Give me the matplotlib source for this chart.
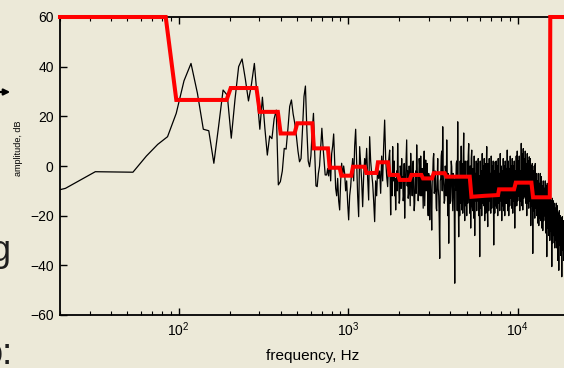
import numpy as np
import matplotlib
matplotlib.use('Agg')
import matplotlib.pyplot as plt
from matplotlib.patches import FancyArrowPatch

plt.rcParams['font.family'] = ['Liberation Sans', 'DejaVu Sans']
plt.rcParams['mathtext.fontset'] = 'custom'
plt.rcParams['mathtext.rm'] = 'Liberation Sans'
plt.rcParams['mathtext.it'] = 'Liberation Sans:italic'
plt.rcParams['mathtext.bf'] = 'Liberation Sans:bold'

BG = '#ECE9D8'

# ---------------- data ----------------
# spectrum, low part: FFT bins (44.1 kHz, 4096 points)
bin_hz = 44100 / 4096
low_amp = [-14, -9.0, -2.3, -2.4, -2.5, 4.0, 8.7, 11.8, 21.2, 34.3,
           41.3, 29.3, 14.8, 14.2, 1.1, 16, 30.6, 28.5, 11.2, 27,
           40, 43.1, 35, 26.2, 33, 41.3, 28, 14.8, 27.7, 15,
           4.4, 12.1, 11, 19, 22.5, -7.6, -6.3, -2, 7.1, 6.8,
           15, 24, 26.6, 21, 17.2, 12, 6, 1.7, 3, 15,
           28, 32.2, 15, 2, -0.3, 4, 14, 21.2, 5, -8,
           -8.3, -3, 0, 8, 15.2, 8, 2, -3.6]

# spectrum, ~747 Hz .. ~1.73 kHz
mid1_f_range = (747, 1733)
mid1_amp = [-3.6, -1, -4, 2.4, -6, 5, 8, 12.9, 2, -9,
            -12, -5, -14, -17.7, -6, 1.1, -4, 0, -3, -10,
            -6, -15, -21.7, -12, -8.3, -2, 3, -6, 8, 14.8,
            2, -12, -20.4, 7.8, 1.1, -6, -16.4, -4, 3, -0.3,
            7.1, -5, -13.7, 11.8, 2, -3, -7, -14, -22.4, -6,
            -12, -0.3, -5, -2, -11, 4, -6, 8, 18.5, 3,
            -4, -8.3, 2]

# spectrum, ~1.76 kHz .. ~4.34 kHz
mid2_f_range = (1757, 4338)
mid2_amp = [6.4, -8, -19.7, -6, -3, -12, 7.8, -4, -6, 2, -12, -5, -17.7, -8, -2, -10, 9.1, -3, -5, -15,
            -13.7, 0, -1, -9, 3, -6, -4.3, -14, -12, 1, -21, -7, -3, 4, 10.5, -8, -2, -13, -11, 0,
            -8.3, -16, 5.1, -3, -6, -12, -1, 2, -10, -18, -15, -5, -2, -11, 8.5, -2, -4, -14, -9, 3,
            -0.3, -12, 4, -7, -12, -1, -9.7, -17, -3, 6, -16, -6, 2.4, -10, -6, 1, -14, -20, -3, -9,
            -21.7, -4, -8, -14, -25.8, -6, -4, 3, 5, -11, -10, -2, -8.3, -17, -18, -5, 3, -9, -12, -22,
            -37.2, -6, -5, 4, 6, -10, 15.8, -4, -8, -15, -13.7, 0, -2, -12, 10.5, -6, -20, -3, -31.1, -8,
            -4, -15, -14, 2, -0.3, -10, -18, -3, -6, -14, -47.2, -5, -9.7, 1]

# spectrum, ~4.37 kHz .. ~22 kHz (very dense)
high_f_range = (4366, 22140)
high_amp = [2, -18, 17.8, -10, -28.5, -4, -20, 2, -15, 8, -17.7, 1, -19, 3, 13.3, -12, -22, 2, -16, -5,
            -20, 2, -15, 4, 9, -12, -19, 0, -25, 3, 6.4, -16, -18, -1, -21, 4, -28, -3, -14, 2,
            -18, 1, -14, 3, -20, -4, -36.5, 2, -17, -2, -20, 5, -15, 0, -16, 3, -22, 1, -19, -2,
            7.8, -16, -24.4, 1, -18, 3, -14, -3, -19, 4, -17, 0, -12, 2, -31.8, -2, -19, 1.7, -16, 2,
            -17, 0, -20, 3, -15, -3, -18, 5, -14, 0, -22, -2, -16, 3, -18, 0, -20, 2, -15, -1,
            -15, 6.4, -18, 2, -20, -1, -16, 4, -13, 0, -17, 3, -19, 0, -14, 2, -25, -2, -16, 4,
            -16, 6, -14, 2, -12, 4, -18, -2, -14, 9.1, -16, 5, -17.7, 7, -13, 3, -12, 6, -15, 1,
            -20, 5, -15, 2, -17, 3.7, -14, 3, -24, 0, -16, 1, -35.2, -2, -18, 0, -21, 1, -17, -3,
            -20, -6, -23, -3, -24, -7, -21, -3, -22, -4.3, -25, -8, -26, -6, -22, -9, -20, -6, -27, -8,
            -36.5, -7, -25, -11, -28, -9, -30, -12, -26, -14, -40.5, -13, -31, -14, -28, -15, -33, -17, -30, -15,
            -33, -16, -38, -19, -42, -18, -32, -20, -36, -21, -44.6, -20.4, -34, -22, -38, -23, -35, -22, -40, -24,
            -38, -24, -42, -25, -40, -26, -43, -27, -42, -28, -44, -27, -45, -29, -43, -28, -46, -30, -44, -29]

# threshold (red) polyline
red_f = [20, 84, 97, 192, 203, 288, 301, 385, 400, 483, 501, 615, 628,
         760, 778, 891, 912, 1044, 1067, 1251, 1281, 1467, 1499, 1717,
         1757, 1967, 2013, 2306, 2360, 2703, 2763, 3122, 3194, 3710,
         3796, 5210, 5332, 6387, 7652, 7757, 9510, 9732, 12040, 12310,
         15450, 15550, 22050]
red_db = [60, 60, 26.6, 26.6, 31.4, 31.4, 21.8, 21.8, 13.1, 13.1, 17.2,
          17.2, 7.1, 7.1, -0.7, -0.7, -3.9, -3.9, -0.3, -0.3, -2.8, -2.8,
          1.5, 1.5, -3.6, -3.6, -5.6, -5.6, -3.6, -3.6, -5.0, -5.0, -2.9,
          -2.9, -4.3, -4.3, -12.4, -12.0, -11.7, -9.4, -9.4, -6.7, -6.7,
          -12.6, -12.6, 60, 60]

y_ticks = [-60, -40, -20, 0, 20, 40, 60]

# ---------------- figure ----------------
fig = plt.figure(figsize=(5.64, 3.68), dpi=100, facecolor=BG)
ax = fig.add_axes([60 / 564, 1 - 315 / 368, 516 / 564, 298 / 368])
ax.set_facecolor(BG)

f_low = bin_hz * np.arange(1, len(low_amp) + 1)
f_mid1 = np.geomspace(mid1_f_range[0], mid1_f_range[1], len(mid1_amp))
f_mid2 = np.geomspace(mid2_f_range[0], mid2_f_range[1], len(mid2_amp))
f_high = np.geomspace(high_f_range[0], high_f_range[1], len(high_amp))
freq = np.concatenate([f_low, f_mid1, f_mid2, f_high])
amp = np.concatenate([low_amp, mid1_amp, mid2_amp, high_amp])

ax.plot(freq, amp, color='black', lw=0.9, zorder=2)
ax.plot(red_f, red_db, color='#FF0000', lw=2.9, zorder=3,
        solid_joinstyle='miter', clip_on=False)

ax.set_xscale('log')
ax.set_xlim(20, 22050)
ax.set_ylim(-60, 60)
ax.set_yticks(y_ticks)
ax.tick_params(which='both', direction='in', top=True, right=True,
               labelsize=10, colors='black')
ax.tick_params(which='major', length=5, width=1)
ax.tick_params(which='minor', length=3, width=0.8)
ax.tick_params(axis='y', pad=4.5)
ax.tick_params(axis='x', pad=4)
for s in ax.spines.values():
    s.set_linewidth(1.3)

fig.text(312.5 / 564, 1 - 356 / 368, 'frequency, Hz', fontsize=11,
         ha='center', va='center')
fig.text(18.5 / 564, 1 - 148 / 368, 'amplitude, dB', fontsize=6.5,
         rotation=90, ha='center', va='center')

# fragments of surrounding slide text
fig.add_artist(FancyArrowPatch((-4 / 564, 1 - 92 / 368), (13 / 564, 1 - 92 / 368),
                               transform=fig.transFigure, arrowstyle='-|>',
                               mutation_scale=9, lw=1.6, color='black'))
fig.text(10 / 564, 1 - 261 / 368, 'g', fontsize=26, ha='right',
         va='baseline', color='#1e1e1e')
fig.text(13 / 564, 1 - 364 / 368, 'o:', fontsize=26, ha='right',
         va='baseline', color='#1e1e1e')

fig.savefig('out.png', dpi=100, facecolor=BG)
